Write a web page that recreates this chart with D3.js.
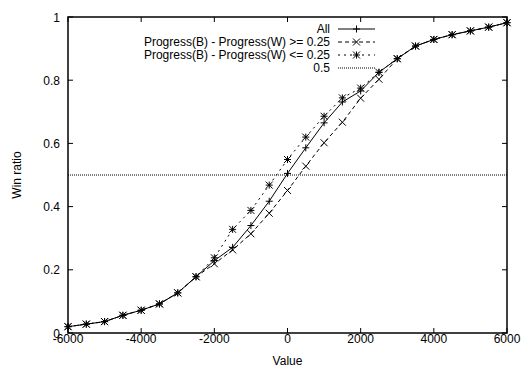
<!DOCTYPE html>
<html>
<head>
<meta charset="utf-8">
<script src="https://cdn.jsdelivr.net/npm/d3@7"></script>
<style>
  body { margin: 0; background: #fff; }
  text { font-family: "Liberation Sans", Arial, sans-serif; font-size: 12px; fill: #000; }
</style>
</head>
<body>
<script>
// --- data ---
const xAll = [-6000, -5500, -5000, -4500, -4000, -3500, -3000, -2500, -2000, -1500, -1000, -500,
  0, 500, 1000, 1500, 2000, 2500, 3000, 3500, 4000, 4500, 5000, 5500, 6000];
const allVals = [0.020, 0.028, 0.036, 0.056, 0.072, 0.092, 0.127, 0.178, 0.229, 0.271, 0.340, 0.417,
  0.505, 0.586, 0.665, 0.731, 0.766, 0.825, 0.868, 0.908, 0.929, 0.944, 0.956, 0.968, 0.982];
const geVals = [0.020, 0.028, 0.036, 0.056, 0.072, 0.092, 0.127, 0.178, 0.219, 0.263, 0.314, 0.379,
  0.451, 0.528, 0.602, 0.667, 0.743, 0.803, 0.868, 0.908, 0.929, 0.944, 0.956, 0.968, 0.982];
const leVals = [0.020, 0.028, 0.036, 0.056, 0.072, 0.092, 0.127, 0.178, 0.238, 0.328, 0.388, 0.468,
  0.549, 0.620, 0.686, 0.744, 0.775, 0.825, 0.868, 0.908, 0.929, 0.944, 0.956, 0.968, 0.982];
const xTicks = [-6000, -4000, -2000, 0, 2000, 4000, 6000];
const yTicks = [0, 0.2, 0.4, 0.6, 0.8, 1];
const legendLabels = ["All", "Progress(B) - Progress(W) >= 0.25", "Progress(B) - Progress(W) <= 0.25", "0.5"];
const refLine = 0.5;

const W = 526, H = 369;
const mLeft = 68, mRight = 507, mTop = 17, mBottom = 333;

const svg = d3.select("body").append("svg")
  .attr("width", W).attr("height", H);

const x = d3.scaleLinear().domain([-6000, 6000]).range([mLeft, mRight]);
const y = d3.scaleLinear().domain([0, 1]).range([mBottom, mTop]);

// ticks (gnuplot style: inward, mirrored)
const tickLen = 5;
svg.append("g").selectAll("line").data(xTicks).enter().append("line")
  .attr("x1", d => x(d)).attr("x2", d => x(d))
  .attr("y1", mBottom).attr("y2", mBottom - tickLen)
  .attr("stroke", "#000");
svg.append("g").selectAll("line").data(xTicks).enter().append("line")
  .attr("x1", d => x(d)).attr("x2", d => x(d))
  .attr("y1", mTop).attr("y2", mTop + tickLen)
  .attr("stroke", "#000");
svg.append("g").selectAll("line").data(yTicks).enter().append("line")
  .attr("x1", mLeft).attr("x2", mLeft + tickLen)
  .attr("y1", d => y(d)).attr("y2", d => y(d))
  .attr("stroke", "#000");
svg.append("g").selectAll("line").data(yTicks).enter().append("line")
  .attr("x1", mRight).attr("x2", mRight - tickLen)
  .attr("y1", d => y(d)).attr("y2", d => y(d))
  .attr("stroke", "#000");

// tick labels
svg.append("g").selectAll("text").data(xTicks).enter().append("text")
  .attr("x", d => x(d)).attr("y", mBottom + 10)
  .attr("text-anchor", "middle")
  .text(d => d);
svg.append("g").selectAll("text").data(yTicks).enter().append("text")
  .attr("x", mLeft - 8).attr("y", d => y(d) + 4.5)
  .attr("text-anchor", "end")
  .text(d => d);

// axis titles
svg.append("text")
  .attr("x", x(0)).attr("y", H - 4)
  .attr("text-anchor", "middle")
  .text("Value");
svg.append("text")
  .attr("transform", `translate(21, ${(mTop + mBottom) / 2}) rotate(-90)`)
  .attr("text-anchor", "middle")
  .text("Win ratio");

// reference line 0.5
svg.append("line")
  .attr("x1", mLeft).attr("x2", mRight)
  .attr("y1", y(refLine)).attr("y2", y(refLine))
  .attr("stroke", "#000").attr("stroke-width", 1)
  .attr("stroke-dasharray", "1,1");

// series
const series = [
  { vals: allVals, dash: null, marker: "plus" },
  { vals: geVals, dash: "4,3", marker: "cross" },
  { vals: leVals, dash: "2,4", marker: "star" }
];

const line = d3.line().x(d => x(d[0])).y(d => y(d[1]));

function drawMarker(g, cx, cy, type) {
  const s = 3.5;
  if (type === "plus" || type === "star") {
    g.append("line").attr("x1", cx - s).attr("x2", cx + s).attr("y1", cy).attr("y2", cy).attr("stroke", "#000");
    g.append("line").attr("x1", cx).attr("x2", cx).attr("y1", cy - s).attr("y2", cy + s).attr("stroke", "#000");
  }
  if (type === "cross" || type === "star") {
    g.append("line").attr("x1", cx - s).attr("x2", cx + s).attr("y1", cy - s).attr("y2", cy + s).attr("stroke", "#000");
    g.append("line").attr("x1", cx - s).attr("x2", cx + s).attr("y1", cy + s).attr("y2", cy - s).attr("stroke", "#000");
  }
}

series.slice().reverse().forEach(s => {
  const pts = xAll.map((v, i) => [v, s.vals[i]]);
  svg.append("path")
    .attr("d", line(pts))
    .attr("fill", "none")
    .attr("stroke", "#000")
    .attr("stroke-width", 1)
    .attr("stroke-dasharray", s.dash);
  const g = svg.append("g");
  pts.forEach(p => drawMarker(g, x(p[0]), y(p[1]), s.marker));
});

// legend
const legX = 330, legY = 29, legStep = 13;
legendLabels.forEach((lab, i) => {
  const yy = legY + i * legStep;
  svg.append("text")
    .attr("x", legX).attr("y", yy + 4)
    .attr("text-anchor", "end")
    .text(lab);
  const ln = svg.append("line")
    .attr("x1", legX + 8).attr("x2", legX + 45)
    .attr("y1", yy).attr("y2", yy)
    .attr("stroke", "#000").attr("stroke-width", 1);
  if (i < 3) {
    ln.attr("stroke-dasharray", series[i].dash);
    drawMarker(svg.append("g"), legX + 26.5, yy, series[i].marker);
  } else {
    ln.attr("stroke-dasharray", "1,1");
  }
});

// frame
svg.append("rect")
  .attr("x", mLeft).attr("y", mTop)
  .attr("width", mRight - mLeft).attr("height", mBottom - mTop)
  .attr("fill", "none").attr("stroke", "#000").attr("stroke-width", 1.5);
</script>
</body>
</html>
